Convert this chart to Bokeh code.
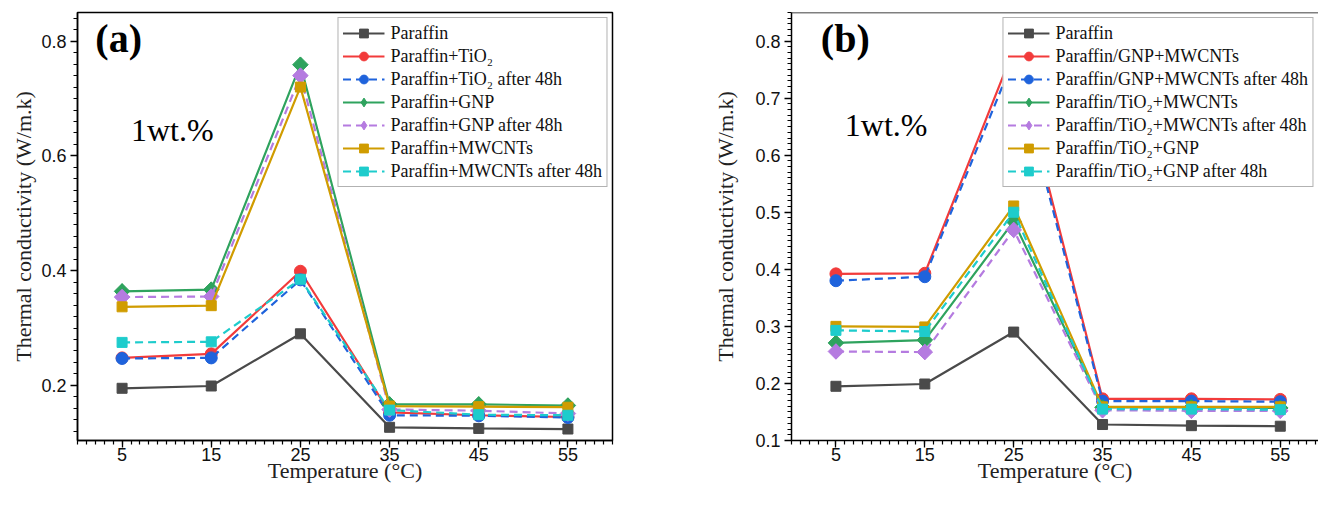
import math
from bokeh.plotting import figure
from bokeh.layouts import row
from bokeh.models import FixedTicker, Label, Span
from bokeh.embed import file_html
from bokeh.resources import INLINE

# ---------------- data ----------------
temps = [5, 15, 25, 35, 45, 55]
x_tick_labels = ["5", "15", "25", "35", "45", "55"]
a_yticks = [0.2, 0.4, 0.6, 0.8]
b_yticks = [0.1, 0.2, 0.3, 0.4, 0.5, 0.6, 0.7, 0.8]

# panel (a)
a_names = ["Paraffin", "Paraffin+TiO\u2082", "Paraffin+TiO\u2082 after 48h",
           "Paraffin+GNP", "Paraffin+GNP after 48h",
           "Paraffin+MWCNTs", "Paraffin+MWCNTs after 48h"]
a_paraffin = [0.195, 0.199, 0.290, 0.127, 0.125, 0.124]
a_tio2 = [0.248, 0.255, 0.399, 0.153, 0.148, 0.145]
a_tio2_48 = [0.247, 0.248, 0.384, 0.148, 0.147, 0.144]
a_gnp = [0.364, 0.367, 0.759, 0.167, 0.167, 0.165]
a_gnp_48 = [0.354, 0.355, 0.740, 0.158, 0.156, 0.151]
a_mwcnt = [0.337, 0.339, 0.720, 0.164, 0.163, 0.162]
a_mwcnt_48 = [0.275, 0.276, 0.385, 0.157, 0.149, 0.148]

# panel (b)
b_names = ["Paraffin", "Paraffin/GNP+MWCNTs", "Paraffin/GNP+MWCNTs after 48h",
           "Paraffin/TiO\u2082+MWCNTs", "Paraffin/TiO\u2082+MWCNTs after 48h",
           "Paraffin/TiO\u2082+GNP", "Paraffin/TiO\u2082+GNP after 48h"]
b_paraffin = [0.195, 0.199, 0.290, 0.128, 0.126, 0.125]
b_gnp_mw = [0.392, 0.393, 0.785, 0.173, 0.173, 0.172]
b_gnp_mw_48 = [0.380, 0.387, 0.769, 0.169, 0.169, 0.168]
b_tio_mw = [0.271, 0.276, 0.484, 0.158, 0.158, 0.157]
b_tio_mw_48 = [0.256, 0.255, 0.469, 0.153, 0.152, 0.152]
b_tio_gnp = [0.300, 0.299, 0.511, 0.159, 0.159, 0.159]
b_tio_gnp_48 = [0.293, 0.291, 0.500, 0.155, 0.155, 0.154]

# ---------------- styles ----------------
colors = ["#4a4a4a", "#f23b3b", "#1f63dc", "#2fa35e", "#b57be0", "#d09c00", "#1ecccc"]
markers = ["square", "circle", "circle", "diamond", "diamond", "square", "square"]
dashes = ["solid", "solid", "8 5", "solid", "8 5", "solid", "8 5"]

SERIF = "Liberation Serif"
SANS = "Liberation Sans"


def make_fig(names, series, xr, yr, yticks, yminor, width, bl, br, boxed, ylab_standoff):
    p = figure(width=width, height=500, x_range=xr, y_range=yr,
               output_backend="svg", toolbar_location=None,
               min_border_left=bl, min_border_right=br,
               min_border_top=12, min_border_bottom=60)
    p.background_fill_color = "white"
    p.border_fill_color = "white"
    p.grid.visible = False
    if boxed:
        p.outline_line_color = "black"
        p.outline_line_width = 1.5
    else:
        p.outline_line_color = None
        p.add_layout(Span(location=yr[1], dimension="width",
                          line_color="black", line_width=1.5))

    p.xaxis.ticker = FixedTicker(ticks=temps, minor_ticks=list(range(0, 61)))
    p.xaxis.major_label_overrides = {t: s for t, s in zip(temps, x_tick_labels)}
    p.yaxis.ticker = FixedTicker(ticks=yticks, minor_ticks=yminor)
    for ax in (p.xaxis[0], p.yaxis[0]):
        ax.axis_line_width = 1.5
        ax.axis_line_color = "black"
        ax.major_tick_line_color = "black"
        ax.minor_tick_line_color = "black"
        ax.major_tick_line_width = 1.3
        ax.minor_tick_line_width = 1.2
        ax.major_tick_in = 0
        ax.major_tick_out = 7
        ax.minor_tick_in = 0
        ax.minor_tick_out = 4
        ax.major_label_text_font = SANS
        ax.major_label_text_font_size = "18px"
        ax.major_label_text_color = "#111111"
        ax.axis_label_text_font = SERIF
        ax.axis_label_text_font_size = "22px"
        ax.axis_label_text_font_style = "normal"
        ax.axis_label_text_color = "#222222"
    p.xaxis.axis_label = "Temperature (\u00b0C)"
    p.yaxis.axis_label = "Thermal conductivity (W/m.k)"
    p.xaxis.major_label_standoff = 0
    p.xaxis.axis_label_standoff = -6
    p.yaxis.major_label_standoff = 4
    p.yaxis.axis_label_standoff = ylab_standoff

    for i, (name, ys) in enumerate(zip(names, series)):
        c = colors[i]
        p.line(temps, ys, line_color=c, line_width=2.2, line_dash=dashes[i],
               legend_label=name)
        m = markers[i]
        if m == "diamond":
            p.scatter(temps, ys, marker="diamond", size=15,
                      fill_color=c, line_color=c, legend_label=name)
            p.scatter(temps, ys, marker="square", size=11, angle=math.pi / 4,
                      fill_color=c, line_color=c)
        elif m == "circle":
            p.scatter(temps, ys, marker="circle", size=12,
                      fill_color=c, line_color=c, legend_label=name)
        else:
            p.scatter(temps, ys, marker="square", size=10,
                      fill_color=c, line_color=c, legend_label=name)

    lg = p.legend[0]
    lg.location = "top_right"
    lg.margin = 5
    lg.padding = 4
    lg.spacing = 1
    lg.label_height = 22
    lg.glyph_height = 22
    lg.glyph_width = 42
    lg.label_standoff = 6
    lg.label_text_font = SERIF
    lg.label_text_font_size = "18px"
    lg.label_text_color = "#111111"
    lg.border_line_color = "#666666"
    lg.border_line_width = 1.2
    lg.background_fill_alpha = 1.0
    return p


pa = make_fig(a_names, [a_paraffin, a_tio2, a_tio2_48, a_gnp, a_gnp_48, a_mwcnt, a_mwcnt_48],
              (0, 60), (0.104, 0.85), a_yticks,
              [round(0.1 + 0.02 * k, 2) for k in range(0, 38)],
              708, 77, 96, True, 2)
pb = make_fig(b_names, [b_paraffin, b_gnp_mw, b_gnp_mw_48, b_tio_mw, b_tio_mw_48, b_tio_gnp, b_tio_gnp_48],
              (0, 59.3), (0.1, 0.85), b_yticks,
              [round(0.1 + 0.01 * k, 2) for k in range(0, 76)],
              610, 83, 0, False, 14)

pa.add_layout(Label(x=2.0, y=0.805, text="(a)", text_font=SERIF, text_font_size="40px",
                    text_font_style="bold", text_baseline="middle", text_color="black"))
pa.add_layout(Label(x=6.0, y=0.646, text="1wt.%", text_font=SERIF, text_font_size="32px",
                    text_baseline="middle", text_color="black"))
pb.add_layout(Label(x=3.3, y=0.805, text="(b)", text_font=SERIF, text_font_size="40px",
                    text_font_style="bold", text_baseline="middle", text_color="black"))
pb.add_layout(Label(x=6.0, y=0.652, text="1wt.%", text_font=SERIF, text_font_size="32px",
                    text_baseline="middle", text_color="black"))

layout = row(pa, pb)
open("out.html", "w").write(file_html(layout, INLINE))
